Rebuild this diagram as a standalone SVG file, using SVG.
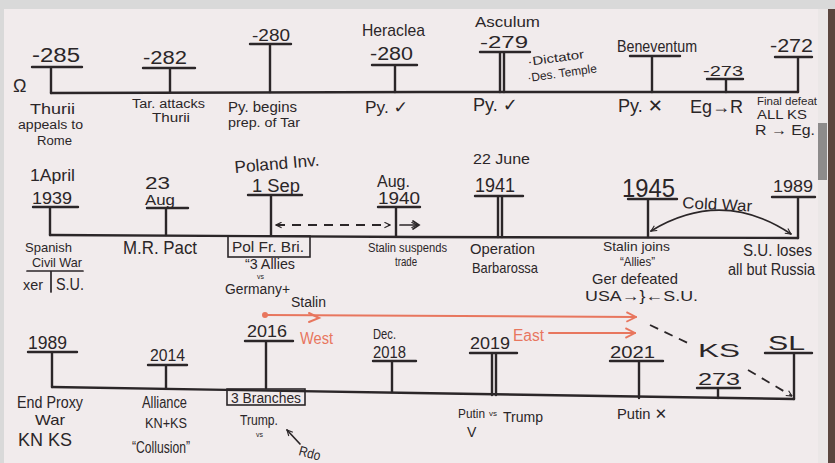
<svg xmlns="http://www.w3.org/2000/svg" width="835" height="463" viewBox="0 0 835 463">
<style>
.ln{stroke:#2b2628;stroke-width:2.4;fill:none;stroke-linecap:round;stroke-linejoin:round}
.th{stroke:#2b2628;stroke-width:1.7;fill:none;stroke-linecap:round}
.dash{stroke:#2b2628;stroke-width:1.8;fill:none;stroke-dasharray:9 7}
.t{font-family:"Liberation Sans",Arial,"DejaVu Sans",sans-serif;fill:#2b2628}
.or{stroke:#e8765e;stroke-width:2;fill:none;stroke-linecap:round}
.ot{fill:#e8765e}
.box{fill:none;stroke:#2b2628;stroke-width:1.6}
</style>
<defs>
<marker id="ah" viewBox="0 0 10 10" refX="9" refY="5" markerWidth="7" markerHeight="7" orient="auto-start-reverse" markerUnits="userSpaceOnUse"><path d="M1,1 L9,5 L1,9" fill="none" stroke="#2b2628" stroke-width="1.6"/></marker>
<marker id="oh" viewBox="0 0 10 10" refX="9" refY="5" markerWidth="12" markerHeight="12" orient="auto" markerUnits="userSpaceOnUse"><path d="M1,1 L9,5 L1,9" fill="none" stroke="#e8765e" stroke-width="1.6"/></marker>
</defs>
<rect width="835" height="463" fill="#d9d9d9"/>
<rect x="4" y="9" width="814" height="454" fill="#f1ebec"/>
<rect x="818" y="9" width="10" height="454" fill="#ebe7e7"/>
<rect x="828" y="9" width="7" height="454" fill="#5b463f"/>
<rect x="818" y="123" width="9" height="57" fill="#8d8b8b"/>

<g id="connectors">
<path class="ln" d="M51,93 L420,92 L798,92"/>
<path class="ln" d="M50,235 L415,237 L798,238"/>
<path class="ln" d="M52,387 L415,393 L794,399"/>
<path class="dash" d="M276,225 H390" marker-start="url(#ah)" marker-end="url(#ah)"/>
<path class="th" d="M400,225 H417" marker-end="url(#ah)"/>
<path class="th" d="M413,221 L419,225 L413,229"/>
<path class="th" d="M651,231 Q722,188 791,234" marker-start="url(#ah)" marker-end="url(#ah)"/>
<circle cx="265" cy="315" r="3" fill="#e8765e"/>
<path class="or" d="M265,315 L636,317" marker-end="url(#oh)"/>
<path class="or" d="M309,313 L319,318 L309,322"/>
<path class="or" d="M549,333 H635" marker-end="url(#oh)"/>
<path class="dash" d="M650,325 L690,344"/>
<path class="dash" d="M748,370 L792,396" marker-end="url(#ah)"/>
<path class="th" d="M300,444 L287,430" marker-end="url(#ah)"/>
</g>

<g id="omega"><text class="t" x="13" y="92" font-size="18">Ω</text></g>

<g id="n-285">
<text class="t" x="32" y="62" font-size="20" textLength="48" lengthAdjust="spacingAndGlyphs">-285</text>
<path class="ln" d="M32,67 H82 M51,67 V93"/>
<text class="t" x="30" y="114" font-size="14" textLength="45" lengthAdjust="spacingAndGlyphs">Thurii</text>
<text class="t" x="18" y="129" font-size="12" textLength="65" lengthAdjust="spacingAndGlyphs">appeals to</text>
<text class="t" x="37" y="145" font-size="13" textLength="35" lengthAdjust="spacingAndGlyphs">Rome</text>
</g>
<g id="n-282">
<text class="t" x="143" y="64" font-size="18" textLength="44" lengthAdjust="spacingAndGlyphs">-282</text>
<path class="ln" d="M143,68 H195 M170,68 V92"/>
<text class="t" x="132" y="108" font-size="12" textLength="73" lengthAdjust="spacingAndGlyphs">Tar. attacks</text>
<text class="t" x="152" y="122" font-size="12" textLength="38" lengthAdjust="spacingAndGlyphs">Thurii</text>
</g>
<g id="n-280a">
<text class="t" x="252" y="41" font-size="17" textLength="38" lengthAdjust="spacingAndGlyphs">-280</text>
<path class="ln" d="M250,44 H291 M270,44 V92"/>
<text class="t" x="228" y="112" font-size="14" textLength="69" lengthAdjust="spacingAndGlyphs">Py. begins</text>
<text class="t" x="228" y="127" font-size="12" textLength="72" lengthAdjust="spacingAndGlyphs">prep. of Tar</text>
</g>
<g id="n-heraclea">
<text class="t" x="362" y="36" font-size="17" textLength="63" lengthAdjust="spacingAndGlyphs">Heraclea</text>
<text class="t" x="370" y="60" font-size="18" textLength="43" lengthAdjust="spacingAndGlyphs">-280</text>
<path class="ln" d="M372,65 H417 M395,65 V92"/>
<text class="t" x="365" y="113" font-size="17" textLength="43" lengthAdjust="spacingAndGlyphs">Py. ✓</text>
</g>
<g id="n-asculum">
<text class="t" x="475" y="27" font-size="15" textLength="65" lengthAdjust="spacingAndGlyphs">Asculum</text>
<text class="t" x="480" y="48" font-size="17" textLength="48" lengthAdjust="spacingAndGlyphs">-279</text>
<path class="ln" d="M480,52 H530 M500,52 V92 M504,52 V92"/>
<text class="t" x="528" y="66" font-size="12" textLength="57" lengthAdjust="spacingAndGlyphs" transform="rotate(-8 528 66)">·Dictator</text>
<text class="t" x="528" y="82" font-size="12" textLength="70" lengthAdjust="spacingAndGlyphs" transform="rotate(-8 528 82)">·Des. Temple</text>
<text class="t" x="473" y="111" font-size="18" textLength="45" lengthAdjust="spacingAndGlyphs">Py. ✓</text>
</g>
<g id="n-beneventum">
<text class="t" x="617" y="52" font-size="17" textLength="80" lengthAdjust="spacingAndGlyphs">Beneventum</text>
<path class="ln" d="M630,56 H680 M652,56 V92"/>
<text class="t" x="618" y="112" font-size="18" textLength="45" lengthAdjust="spacingAndGlyphs">Py. ✕</text>
</g>
<g id="n-273a">
<text class="t" x="703" y="76" font-size="15" textLength="40" lengthAdjust="spacingAndGlyphs">-273</text>
<path class="ln" d="M707,79 H743 M726,79 V92"/>
<text class="t" x="690" y="113" font-size="18" textLength="53" lengthAdjust="spacingAndGlyphs">Eg→R</text>
</g>
<g id="n-272">
<text class="t" x="770" y="52" font-size="19" textLength="43" lengthAdjust="spacingAndGlyphs">-272</text>
<path class="ln" d="M775,57 H812 M798,57 V92"/>
<text class="t" x="757" y="105" font-size="11" textLength="60" lengthAdjust="spacingAndGlyphs">Final defeat</text>
<text class="t" x="757" y="119" font-size="13" textLength="50" lengthAdjust="spacingAndGlyphs">ALL KS</text>
<text class="t" x="755" y="135" font-size="15" textLength="60" lengthAdjust="spacingAndGlyphs">R → Eg.</text>
</g>

<g id="n-1939">
<text class="t" x="30" y="181" font-size="16" textLength="45" lengthAdjust="spacingAndGlyphs">1April</text>
<text class="t" x="32" y="204" font-size="17" textLength="40" lengthAdjust="spacingAndGlyphs">1939</text>
<path class="ln" d="M33,207 H78 M50,207 V235"/>
<text class="t" x="25" y="252" font-size="13" textLength="47" lengthAdjust="spacingAndGlyphs">Spanish</text>
<text class="t" x="32" y="267" font-size="13" textLength="50" lengthAdjust="spacingAndGlyphs">Civil War</text>
<path class="th" d="M27,271 H83 M51,271 V292"/>
<text class="t" x="23" y="290" font-size="14" textLength="20" lengthAdjust="spacingAndGlyphs">xer</text>
<text class="t" x="56" y="290" font-size="16" textLength="28" lengthAdjust="spacingAndGlyphs">S.U.</text>
</g>
<g id="n-aug23">
<text class="t" x="145" y="189" font-size="16" textLength="25" lengthAdjust="spacingAndGlyphs">23</text>
<text class="t" x="145" y="205" font-size="15" textLength="30" lengthAdjust="spacingAndGlyphs">Aug</text>
<path class="ln" d="M147,208 H188 M166,208 V235"/>
<text class="t" x="123" y="254" font-size="19" textLength="74" lengthAdjust="spacingAndGlyphs">M.R. Pact</text>
</g>
<g id="n-sep1">
<text class="t" x="235" y="173" font-size="17" textLength="85" lengthAdjust="spacingAndGlyphs" transform="rotate(-5 235 173)">Poland Inv.</text>
<text class="t" x="252" y="192" font-size="18" textLength="48" lengthAdjust="spacingAndGlyphs">1 Sep</text>
<path class="ln" d="M248,195 H302 M271,195 V235"/>
<rect class="box" x="228" y="236" width="82" height="21"/>
<text class="t" x="232" y="252" font-size="14" textLength="72" lengthAdjust="spacingAndGlyphs">Pol Fr. Bri.</text>
<text class="t" x="245" y="269" font-size="14" textLength="50" lengthAdjust="spacingAndGlyphs">“3 Allies</text>
<text class="t" x="257" y="279" font-size="7">vs</text>
<text class="t" x="225" y="294" font-size="14" textLength="65" lengthAdjust="spacingAndGlyphs">Germany+</text>
<text class="t" x="291" y="307" font-size="14" textLength="35" lengthAdjust="spacingAndGlyphs">Stalin</text>
</g>
<g id="n-1940">
<text class="t" x="377" y="187" font-size="16" textLength="33" lengthAdjust="spacingAndGlyphs">Aug.</text>
<text class="t" x="378" y="204" font-size="17" textLength="42" lengthAdjust="spacingAndGlyphs">1940</text>
<path class="ln" d="M378,207 H420 M396,207 V236"/>
<text class="t" x="368" y="252" font-size="12" textLength="79" lengthAdjust="spacingAndGlyphs">Stalin suspends</text>
<text class="t" x="395" y="266" font-size="12" textLength="22" lengthAdjust="spacingAndGlyphs">trade</text>
</g>
<g id="n-1941">
<text class="t" x="473" y="164" font-size="15" textLength="57" lengthAdjust="spacingAndGlyphs">22 June</text>
<text class="t" x="475" y="192" font-size="21" textLength="40" lengthAdjust="spacingAndGlyphs">1941</text>
<path class="ln" d="M475,196 H523 M498,196 V237 M502,196 V237"/>
<text class="t" x="470" y="254" font-size="15" textLength="65" lengthAdjust="spacingAndGlyphs">Operation</text>
<text class="t" x="472" y="273" font-size="15" textLength="66" lengthAdjust="spacingAndGlyphs">Barbarossa</text>
</g>
<g id="n-1945">
<text class="t" x="622" y="197" font-size="26" textLength="53" lengthAdjust="spacingAndGlyphs">1945</text>
<path class="ln" d="M628,199 H677 M648,199 V237"/>
<text class="t" x="603" y="251" font-size="13" textLength="67" lengthAdjust="spacingAndGlyphs">Stalin joins</text>
<text class="t" x="620" y="266" font-size="12" textLength="35" lengthAdjust="spacingAndGlyphs">“Allies”</text>
<text class="t" x="592" y="284" font-size="15" textLength="86" lengthAdjust="spacingAndGlyphs">Ger defeated</text>
<text class="t" x="585" y="301" font-size="15" textLength="113" lengthAdjust="spacingAndGlyphs">USA→}←S.U.</text>
</g>
<g id="coldwar"><text class="t" x="682" y="208" font-size="16" textLength="70" lengthAdjust="spacingAndGlyphs" transform="rotate(3 682 208)">Cold War</text></g>
<g id="n-1989a">
<text class="t" x="773" y="192" font-size="17" textLength="40" lengthAdjust="spacingAndGlyphs">1989</text>
<path class="ln" d="M772,197 H815 M798,197 V238"/>
<text class="t" x="743" y="256" font-size="17" textLength="69" lengthAdjust="spacingAndGlyphs">S.U. loses</text>
<text class="t" x="728" y="275" font-size="16" textLength="87" lengthAdjust="spacingAndGlyphs">all but Russia</text>
</g>

<g id="n-1989b">
<text class="t" x="28" y="349" font-size="18" textLength="39" lengthAdjust="spacingAndGlyphs">1989</text>
<path class="ln" d="M28,352 H77 M52,352 V387"/>
<text class="t" x="17" y="408" font-size="17" textLength="66" lengthAdjust="spacingAndGlyphs">End Proxy</text>
<text class="t" x="35" y="425" font-size="15" textLength="30" lengthAdjust="spacingAndGlyphs">War</text>
<text class="t" x="18" y="446" font-size="18" textLength="54" lengthAdjust="spacingAndGlyphs">KN KS</text>
</g>
<g id="n-2014">
<text class="t" x="150" y="361" font-size="16" textLength="35" lengthAdjust="spacingAndGlyphs">2014</text>
<path class="ln" d="M148,365 H187 M166,365 V388"/>
<text class="t" x="142" y="408" font-size="16" textLength="45" lengthAdjust="spacingAndGlyphs">Alliance</text>
<text class="t" x="145" y="428" font-size="15" textLength="42" lengthAdjust="spacingAndGlyphs">KN+KS</text>
<text class="t" x="132" y="453" font-size="16" textLength="58" lengthAdjust="spacingAndGlyphs">“Collusion”</text>
</g>
<g id="n-2016">
<text class="t" x="247" y="337" font-size="17" textLength="40" lengthAdjust="spacingAndGlyphs">2016</text>
<path class="ln" d="M245,341 H293 M266,341 V388"/>
<text class="t ot" x="300" y="344" font-size="16" textLength="33" lengthAdjust="spacingAndGlyphs">West</text>
<rect class="box" x="227" y="389" width="78" height="16"/>
<text class="t" x="231" y="403" font-size="14" textLength="70" lengthAdjust="spacingAndGlyphs">3 Branches</text>
<text class="t" x="240" y="425" font-size="14" textLength="38" lengthAdjust="spacingAndGlyphs">Trump.</text>
<text class="t" x="256" y="437" font-size="7">vs</text>
<text class="t" x="298" y="455" font-size="14" textLength="22" lengthAdjust="spacingAndGlyphs" transform="rotate(15 298 455)">Rdo</text>
</g>
<g id="n-2018">
<text class="t" x="373" y="339" font-size="14" textLength="23" lengthAdjust="spacingAndGlyphs">Dec.</text>
<text class="t" x="373" y="358" font-size="16" textLength="33" lengthAdjust="spacingAndGlyphs">2018</text>
<path class="ln" d="M373,361 H416 M392,361 V392"/>
</g>
<g id="n-2019">
<text class="t" x="470" y="349" font-size="17" textLength="40" lengthAdjust="spacingAndGlyphs">2019</text>
<path class="ln" d="M470,353 H517 M492,353 V395 M496,353 V395"/>
<text class="t ot" x="513" y="341" font-size="16" textLength="31" lengthAdjust="spacingAndGlyphs">East</text>
<text class="t" x="458" y="418" font-size="13" textLength="27" lengthAdjust="spacingAndGlyphs">Putin</text>
<text class="t" x="489" y="416" font-size="8">vs</text>
<text class="t" x="503" y="422" font-size="15" textLength="40" lengthAdjust="spacingAndGlyphs">Trump</text>
<text class="t" x="467" y="437" font-size="14">V</text>
</g>
<g id="n-2021">
<text class="t" x="610" y="358" font-size="16" textLength="45" lengthAdjust="spacingAndGlyphs">2021</text>
<path class="ln" d="M610,361 H663 M639,361 V398"/>
<text class="t" x="617" y="419" font-size="15" textLength="50" lengthAdjust="spacingAndGlyphs">Putin ✕</text>
</g>
<g id="n-ks273">
<text class="t" x="698" y="357" font-size="18" textLength="42" lengthAdjust="spacingAndGlyphs">KS</text>
<text class="t" x="698" y="385" font-size="17" textLength="42" lengthAdjust="spacingAndGlyphs">273</text>
<path class="ln" d="M697,388 H740 M718,388 V398"/>
</g>
<g id="n-sl">
<text class="t" x="768" y="350" font-size="20" textLength="37" lengthAdjust="spacingAndGlyphs">SL</text>
<path class="ln" d="M765,353 H812 M794,353 V399"/>
</g>
</svg>
